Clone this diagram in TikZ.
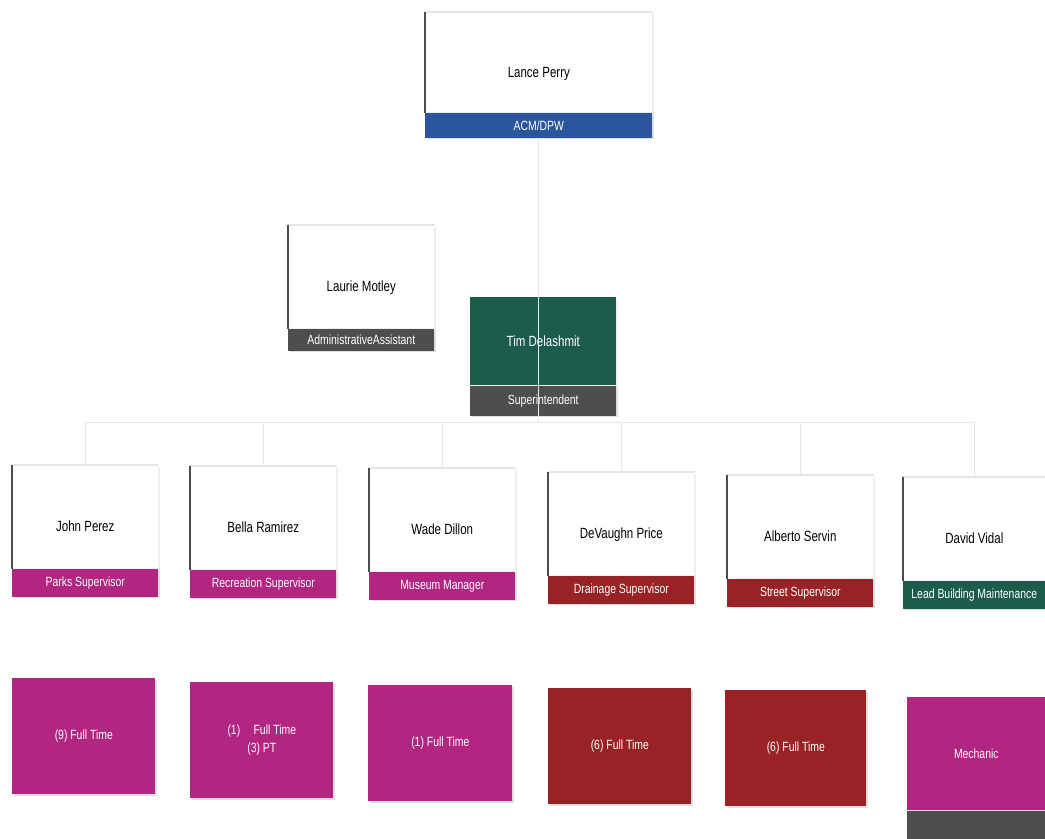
\documentclass[tikz,border=0pt]{standalone}
\usepackage{fontspec}
\setmainfont[FakeStretch=0.78]{Liberation Sans}
\usepackage{xcolor}
\usetikzlibrary{positioning,shadows}

\definecolor{dpwblue}{RGB}{42,86,158}
\definecolor{dpwteal}{RGB}{28,92,76}
\definecolor{dpwmag}{RGB}{176,38,128}
\definecolor{dpwred}{RGB}{152,34,36}
\definecolor{dpwgray}{RGB}{78,78,78}

\begin{document}
\begin{tikzpicture}[x=0.025cm,y=-0.025cm,
  namebox/.style={anchor=north west,fill=white,inner sep=0pt,minimum width=3.65cm,minimum height=2.575cm,
    text height=0.95cm,text depth=0.2cm,font=\fontsize{10.5}{12}\selectfont,
    drop shadow={shadow xshift=1.5pt,shadow yshift=-1.5pt,opacity=0.12}},
  bar/.style={inner sep=0pt,minimum width=3.65cm,minimum height=0.7cm,text=white,font=\fontsize{9.5}{11}\selectfont,
    drop shadow={shadow xshift=1pt,shadow yshift=-1pt,opacity=0.25}},
  crew/.style={anchor=north west,inner sep=0pt,minimum width=3.575cm,minimum height=2.9cm,align=center,
    text=white,font=\fontsize{9.5}{13}\selectfont,
    drop shadow={shadow xshift=1pt,shadow yshift=-1.5pt,opacity=0.25}},
  edge/.style={draw=black!70,line width=1.2pt},
  topedge/.style={draw=black!10,line width=0.8pt},
  link/.style={draw=black!9,line width=0.6pt}
]
\useasboundingbox[fill=white] (0,0) rectangle (1045,838);

% top level
\node[namebox,minimum width=5.675cm,minimum height=2.5cm] (perry) at (425,12) {Lance Perry};
\node[bar,fill=dpwblue,minimum width=5.675cm,minimum height=0.625cm,below=0pt of perry] (perrybar) {ACM/DPW};

\node[namebox] (motley) at (288,225) {Laurie Motley};
\node[bar,fill=dpwgray,minimum height=0.55cm,below=0pt of motley] (motleybar) {AdministrativeAssistant};

\node[namebox,fill=dpwteal,text=white,minimum height=2.2cm,text height=,text depth=] (delashmit) at (470,297) {Tim Delashmit};
\node[bar,fill=dpwgray,minimum height=0.75cm,below=0pt of delashmit] (delashmitbar) {Superintendent};

% supervisors
\node[namebox] (perez) at (12,465) {John Perez};
\node[bar,fill=dpwmag,below=0pt of perez] (perezbar) {Parks Supervisor};
\node[namebox] (ramirez) at (190,466) {Bella Ramirez};
\node[bar,fill=dpwmag,below=0pt of ramirez] (ramirezbar) {Recreation Supervisor};
\node[namebox] (dillon) at (369,468) {Wade Dillon};
\node[bar,fill=dpwmag,below=0pt of dillon] (dillonbar) {Museum Manager};
\node[namebox] (price) at (548,472) {DeVaughn Price};
\node[bar,fill=dpwred,below=0pt of price] (pricebar) {Drainage Supervisor};
\node[namebox] (servin) at (727,475) {Alberto Servin};
\node[bar,fill=dpwred,below=0pt of servin] (servinbar) {Street Supervisor};
\node[namebox,minimum width=3.55cm] (vidal) at (903,477) {David Vidal};
\node[bar,fill=dpwteal,minimum width=3.55cm,below=0pt of vidal] (vidalbar) {Lead Building Maintenance};

% staff
\node[crew,fill=dpwmag] (perezcrew) at (12,678) {(9) Full Time};
\node[crew,fill=dpwmag] (ramirezcrew) at (190,682) {(1)\quad Full Time\\(3) PT};
\node[crew,fill=dpwmag,minimum width=3.6cm] (dilloncrew) at (368,685) {(1) Full Time};
\node[crew,fill=dpwred] (pricecrew) at (548,688) {(6) Full Time};
\node[crew,fill=dpwred,minimum width=3.525cm] (servincrew) at (725,690) {(6) Full Time};
\node[crew,fill=dpwmag,minimum width=3.45cm,minimum height=2.825cm] (mechanic) at (907,697) {Mechanic};
\node[bar,fill=dpwgray,minimum width=3.45cm,below=0pt of mechanic] (mechanicbar) {};

% card edges
\foreach \n in {perry,motley,perez,ramirez,dillon,price,servin,vidal} {
  \draw[topedge] (\n.north west) -- (\n.north east);
  \draw[edge] (\n.north west) -- (\n.south west);
}

% reporting lines
\coordinate (busleft) at (85,422);
\coordinate (busright) at (975,422);
\draw[link] (perrybar.south) -- (perrybar.south |- busleft);
\draw[link] (busleft) -- (busright);
\foreach \n in {perez,ramirez,dillon,price,servin,vidal}
  \draw[link] (\n.north |- busleft) -- (\n.north);
\end{tikzpicture}
\end{document}
